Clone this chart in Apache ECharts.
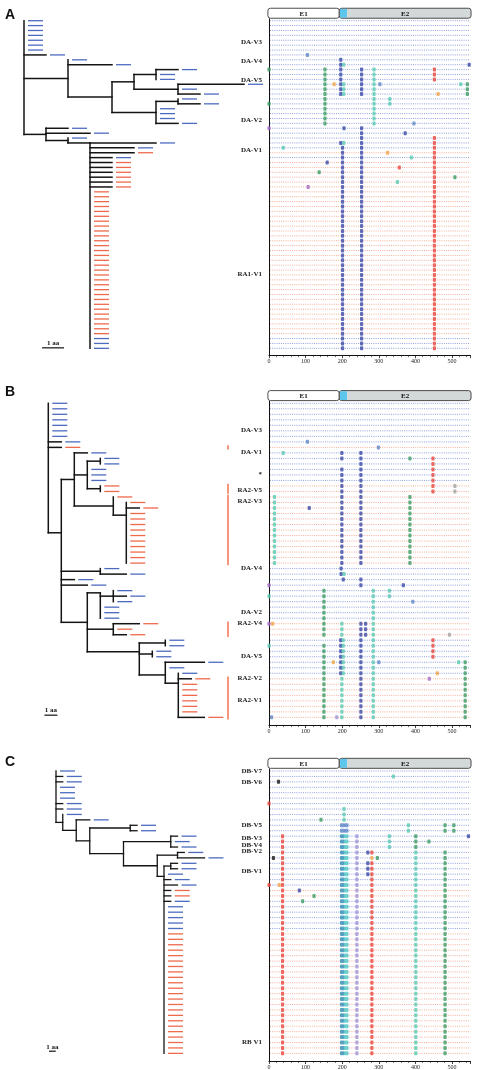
<!DOCTYPE html>
<html><head><meta charset="utf-8">
<script src="https://cdn.jsdelivr.net/npm/echarts@6/dist/echarts.min.js"></script>
<style>html,body{margin:0;padding:0;background:#fff}#c{width:480px;height:1070px}</style>
</head><body><div id="c"></div>
<script>
// ================= DATA =================
const positionTicks = [0, 100, 200, 300, 400, 500];
const positionMax = 550;
const exonSegments = [['E1', -3, 192], ['E2', 192, 552]];
const signalPeptide = [194, 213];

// row colour runs: b = DA/DB (blue) sequences, r = RA/RB (red) sequences
const rowRunsA = [['b',27],['r',1],['b',1],['r',36],['b',3]];
const rowRunsB = [['b',8],['r',1],['b',6],['r',15],['b',10],['r',3],['b',7],['r',8]];
const rowRunsC = [['b',22],['r',2],['b',6],['r',23]];

// trees: leaf = branch length (aa); internal = {b: branch length, k: children, y: optional row of node}
const treeA = {k:[0,0,0,0,0,0,0, 1,
  {b:2, k:[0, 2,
    {b:2, k:[
      {b:1, k:[ {b:1, k:[1,0,0]}, {b:2, k:[3,0,1]} ]},
      {b:2, k:[ {b:1, k:[0,1]}, 0,0,0, 1 ]}
    ]}
  ]},
  {b:1, k:[1, 2,
    {b:1, k:[0,
      {b:1, y:25, k:[3,2,2, 1,1,1,1,1,1,1,
        0,0,0,0,0,0,0,0,0,0, 0,0,0,0,0,0,0,0,0,0, 0,0,0,0,0,0,0,0,0,0, 0,0,0]}
    ]}
  ]}
]};
const treeB = {k:[0,0,0,0,0,0,0, 1, 1,
  {b:1, y:23.5, k:[
    {b:1, k:[1,
      {b:1, k:[ {b:1, k:[0,0]}, 0,0,0, {b:1, k:[0,0]} ]},
      {b:3, k:[0, {b:1, y:20.3, k:[0,1,0,0,0,0,0,0,0,0,0,0]} ]}
    ]},
    {b:3, k:[0, 2]},
    1,
    2,
    {b:2, k:[
      {b:1, y:34.4, k:[ {b:1, k:[0,1,0]}, 0,0,0 ]},
      {b:2, k:[2,0,1]},
      {b:4, y:45.1, k:[
        {b:2, k:[0,0]},
        {b:1, k:[0,0]},
        {b:2, y:49.3, k:[3, 0, {b:1, y:50.8, k:[0,1,0,0,0,0,0,0,2]} ]}
      ]}
    ]}
  ]}
]};
const treeC = {k:[0, 1,1, 0,0,0, 1,1,
  {b:1, k:[0,
    {b:2, k:[2,
      {b:2, k:[
        {b:6, k:[1,1]},
        {b:5, k:[
          {b:7, k:[1,0,1]},
          {b:5, k:[
            {b:3, k:[1,4]},
            {b:1, y:19.4, k:[ {b:1, k:[1,1]}, 0, 1, 2, 1,1,1,
              0,0,0,0,0,0,0,0,0,0, 0,0,0,0,0,0,0,0,0,0, 0,0,0,0,0,0,0,0 ]}
          ]}
        ]}
      ]}
    ]}
  ]}
]};

// mutations: [position, firstRow, lastRow, type]
const mutationsA = [
  [105,7,7,'sb'],[196,8,15,'db'],[204,9,9,'tl'],[204,13,15,'tl'],[547,9,9,'db'],
  [0,10,10,'gr'],[0,17,17,'gr'],[0,22,22,'pu'],[153,10,21,'gr'],[253,10,15,'db'],
  [287,10,21,'tl'],[452,10,12,'rd'],[178,13,13,'or'],[303,13,13,'sb'],[524,13,13,'tl'],
  [542,13,15,'gr'],[462,15,15,'or'],[330,16,17,'tl'],[396,21,21,'sb'],[205,22,22,'db'],
  [253,22,67,'db'],[372,23,23,'db'],[452,24,67,'rd'],[196,25,25,'db'],[204,25,25,'tl'],
  [39,26,26,'tl'],[201,26,67,'db'],[324,27,27,'or'],[389,28,28,'tl'],[159,29,29,'db'],
  [356,30,30,'rd'],[137,31,31,'gr'],[508,32,32,'gr'],[351,33,33,'tl'],[107,34,34,'pu']
];
const mutationsB = [
  [105,7,7,'sb'],[299,8,8,'sb'],[39,9,9,'tl'],[199,9,10,'db'],[199,12,29,'db'],
  [251,9,29,'db'],[385,10,10,'gr'],[385,17,29,'gr'],[448,10,16,'rd'],[508,15,16,'gy'],
  [15,17,29,'tl'],[110,19,19,'db'],[197,30,31,'db'],[205,31,31,'tl'],[203,32,32,'db'],
  [251,32,33,'db'],[0,33,33,'pu'],[367,33,33,'db'],[150,34,42,'gr'],[150,44,57,'gr'],
  [285,34,57,'tl'],[329,34,35,'tl'],[0,35,35,'tl'],[393,36,36,'sb'],[0,40,40,'pu'],
  [10,40,40,'or'],[199,40,42,'tl'],[199,50,57,'tl'],[251,40,57,'db'],[264,40,42,'db'],
  [493,42,42,'gy'],[196,43,49,'db'],[203,43,49,'tl'],[448,43,46,'rd'],[0,44,44,'tl'],
  [176,47,47,'or'],[300,47,47,'sb'],[518,47,47,'tl'],[536,47,57,'gr'],[460,49,49,'or'],
  [438,50,50,'pu'],[7,57,57,'sb'],[185,57,57,'lv']
];
const mutationsC = [
  [340,1,1,'tl'],[26,2,2,'bk'],[0,6,6,'rd'],[205,7,9,'tl'],[142,9,9,'gr'],
  [200,10,11,'bw'],[211,10,11,'bw'],[381,10,11,'tl'],[481,10,11,'gr'],[505,10,11,'gr'],
  [37,12,52,'rd'],[200,12,52,'dt'],[211,12,52,'tw'],[240,12,52,'lv'],[329,12,14,'tl'],
  [401,12,14,'gr'],[401,15,52,'tl'],[545,12,12,'db'],[437,13,13,'gr'],[270,15,15,'db'],
  [270,17,19,'db'],[281,15,15,'rd'],[281,17,52,'rd'],[481,15,52,'gr'],[12,16,16,'bk'],
  [281,16,16,'or'],[296,16,16,'gr'],[0,21,21,'rd'],[28,21,21,'or'],[83,22,22,'db'],
  [123,23,23,'gr'],[92,24,24,'gr']
];

// variant labels: [text, row]
const labelsA = [['DA-V3',4.3],['DA-V4',8.2],['DA-V5',12.2],['DA-V2',20.3],['DA-V1',26.4],['RA1-V1',51.8]];
const labelsB = [['DA-V3',4.85],['DA-V1',8.8],['*',12.8],['RA2-V5',15.7],['RA2-V3',17.7],['DA-V4',29.9],
  ['DA-V2',37.9],['RA2-V4',39.9],['DA-V5',45.9],['RA2-V2',49.9],['RA2-V1',53.9]];
const labelsC = [['DB-V7',0],['DB-V6',2],['DB-V5',10],['DB-V3',12.4],['DB-V4',13.6],['DB-V2',14.8],
  ['DB-V1',18.5],['RB V1',49.9]];
// red sequence brackets in panel B: [firstRow, lastRow]
const bracketsB = [[8,8],[15,16],[17,29],[40,42],[50,57]];
// scale bar: [start (aa), row]
const scaleBarA = [0.82, 66.9];
const scaleBarB = [-0.3, 56.6];
const scaleBarC = [-1.04, 51.6];

// ================= STYLE / LAYOUT =================
const dotColors = {db:'#3a49a8', sb:'#5f86c7', tl:'#58cab3', gr:'#3b9b63', rd:'#e9463c', or:'#f2a446',
  pu:'#a467c2', gy:'#a4a4a4', lv:'#9c95d8', bk:'#151515', dt:'#2f8cb5', tw:'#4ec6c4', bw:'#5a84c6'};
const wideDots = {dt:1, tw:1, bw:1};
const leafBlue = '#4d6cc0', leafRed = '#ee6a4c';
const rowBlue = '#7489d4', rowRed = '#f29c82';
const plotLeft = 269, plotWidth = 201.3;
const serif = '"Liberation Serif","DejaVu Serif",serif';

const panels = [
  {letter:'A', runs:rowRunsA, tree:treeA, muts:mutationsA, labels:labelsA, brackets:[], scale:scaleBarA,
   L:{row0:20.7, step:4.89, treeLeft:24, pxPerAa:22, letterTop:8, lw:1.5}},
  {letter:'B', runs:rowRunsB, tree:treeB, muts:mutationsB, labels:labelsB, brackets:bracketsB, scale:scaleBarB,
   L:{row0:403.3, step:5.51, treeLeft:48.3, pxPerAa:13, letterTop:385, lw:1.5}},
  {letter:'C', runs:rowRunsC, tree:treeC, muts:mutationsC, labels:labelsC, brackets:[], scale:scaleBarC,
   L:{row0:771, step:5.43, treeLeft:56, pxPerAa:6.75, letterTop:755, lw:1.3}}
];

function expandRuns(runs){ const out=[]; runs.forEach(([c,n])=>{ for(let i=0;i<n;i++) out.push(c); }); return out; }
function layoutTree(root){
  const leaves=[], segs=[]; let row=0;
  function walk(node, px){
    if (typeof node === 'number'){
      const x = px + node, y = row++;
      leaves.push([x, y]);
      if (node > 0) segs.push([px, y, x, y]);
      return y;
    }
    const x = px + (node.b || 0);
    const ys = node.k.map(ch => walk(ch, x));
    const y = node.y !== undefined ? node.y : (ys[0] + ys[ys.length-1]) / 2;
    segs.push([x, Math.min(ys[0], y), x, Math.max(ys[ys.length-1], y)]);
    if (node.b) segs.push([px, y, x, y]);
    return y;
  }
  walk(root, 0);
  return {leaves, segs};
}

const grid=[], xAxis=[], yAxis=[], series=[], title=[];
panels.forEach((P, i) => {
  const rowCol = expandRuns(P.runs);
  const N = rowCol.length;
  const L = P.L;
  const yMin = -0.4, yMax = N + 0.4;
  const top = L.row0 + yMin * L.step, height = (yMax - yMin) * L.step;
  const tg = 2*i, pg = 2*i + 1;
  const treeW = 200;
  grid.push({left:L.treeLeft, top:top, width:treeW, height:height, outerBoundsMode:'none', containLabel:false});
  grid.push({left:plotLeft, top:top, width:plotWidth, height:height, outerBoundsMode:'none', containLabel:false});
  xAxis.push({gridIndex:tg, type:'value', min:0, max:treeW / L.pxPerAa, show:false});
  yAxis.push({gridIndex:tg, type:'value', inverse:true, min:yMin, max:yMax, show:false});
  xAxis.push({gridIndex:pg, type:'value', min:0, max:positionMax, interval:100,
    axisLine:{onZero:false, lineStyle:{color:'#111', width:1}},
    axisTick:{length:3, lineStyle:{color:'#111', width:0.8}},
    minorTick:{show:true, splitNumber:5, length:2, lineStyle:{color:'#111', width:0.6}},
    axisLabel:{fontSize:6, fontFamily:serif, color:'#222', margin:3,
      formatter: v => positionTicks.includes(v) ? String(v) : ''},
    splitLine:{show:false}});
  yAxis.push({gridIndex:pg, type:'value', inverse:true, min:yMin, max:yMax,
    axisLine:{show:true, onZero:false, lineStyle:{color:'#111', width:1}},
    axisTick:{show:false}, axisLabel:{show:false}, splitLine:{show:false}});
  title.push({text:P.letter, left:5, top:L.letterTop, padding:0,
    textStyle:{fontSize:14, fontWeight:'bold', fontFamily:'"Liberation Sans",Arial,sans-serif', color:'#111'}});

  // row guide lines
  series.push({type:'custom', xAxisIndex:pg, yAxisIndex:pg, silent:true, z:1,
    data: rowCol.map((c, r) => [0, r, positionMax]), encode:{x:[0,2], y:1},
    renderItem(params, api){
      const r = api.value(1);
      const a = api.coord([0, r]), b = api.coord([positionMax, r]);
      return {type:'line', shape:{x1:a[0]+1, y1:a[1], x2:b[0], y2:b[1]},
        style:{stroke: rowCol[r]==='r' ? rowRed : rowBlue, lineWidth:0.8, lineDash:[1,1.2]}};
    }});
  // header (exons)
  const headerData = exonSegments.map((e, k) => [e[1], e[2], 0, k]).concat([[signalPeptide[0], signalPeptide[1], 0, 2]]);
  series.push({type:'custom', xAxisIndex:pg, yAxisIndex:pg, silent:true, z:3,
    data: headerData, encode:{x:[0,1], y:2},
    renderItem(params, api){
      const k = api.value(3);
      const a = api.coord([api.value(0), yMin]), b = api.coord([api.value(1), yMin]);
      const y0 = a[1] - 10.5, h = 10;
      if (k === 2) {
        return {type:'rect', shape:{x:a[0], y:y0+0.6, width:b[0]-a[0], height:h-1.2}, style:{fill:'#5cc6ec'}};
      }
      return {type:'group', children:[
        {type:'rect', shape:{x:a[0], y:y0, width:b[0]-a[0], height:h, r:2.5},
          style:{fill: k===0 ? '#ffffff' : '#d3d8d8', stroke:'#3a3a3a', lineWidth:0.9}},
        {type:'text', z2:5, style:{text: exonSegments[k][0], x:(a[0]+b[0])/2, y:y0+h/2+0.5, align:'center',
          verticalAlign:'middle', font:'bold 7px ' + serif, fill:'#111'}}
      ]};
    }});
  // mutations
  const mdata = [];
  P.muts.forEach(([pos, r0, r1, c]) => {
    for (let r = r0; r <= r1; r++) {
      mdata.push({value:[pos, r], symbolSize: wideDots[c] ? [4.6, 4] : [3.2, 4], itemStyle:{color: dotColors[c]}});
    }
  });
  series.push({type:'scatter', xAxisIndex:pg, yAxisIndex:pg, symbol:'roundRect', clip:false, silent:true, z:4,
    data: mdata});
  // labels
  series.push({type:'custom', xAxisIndex:pg, yAxisIndex:pg, silent:true, z:5,
    data: P.labels.map(l => [0, l[1]]), encode:{x:0, y:1},
    renderItem(params, api){
      const p = api.coord([0, api.value(1)]);
      return {type:'text', style:{text: P.labels[params.dataIndex][0], x:p[0]-7, y:p[1], align:'right',
        verticalAlign:'middle', font:'bold 7px ' + serif, fill:'#222'}};
    }});
  // brackets
  if (P.brackets.length) {
    series.push({type:'custom', xAxisIndex:pg, yAxisIndex:pg, silent:true, z:5,
      data: P.brackets.map(b => [0, b[0], b[1]]), encode:{x:0, y:[1,2]},
      renderItem(params, api){
        const a = api.coord([0, api.value(1) - 0.4]), b = api.coord([0, api.value(2) + 0.4]);
        return {type:'line', shape:{x1:a[0]-41, y1:a[1], x2:a[0]-41, y2:b[1]},
          style:{stroke:'#f27c5a', lineWidth:1.6}};
      }});
  }
  // tree
  const T = layoutTree(P.tree);
  series.push({type:'custom', xAxisIndex:tg, yAxisIndex:tg, silent:true, z:3,
    data: T.segs, encode:{x:[0,2], y:[1,3]},
    renderItem(params, api){
      const a = api.coord([api.value(0), api.value(1)]), b = api.coord([api.value(2), api.value(3)]);
      return {type:'line', shape:{x1:a[0], y1:a[1], x2:b[0], y2:b[1]},
        style:{stroke:'#141414', lineWidth:L.lw, lineCap:'square'}};
    }});
  series.push({type:'custom', xAxisIndex:tg, yAxisIndex:tg, silent:true, z:3,
    data: T.leaves, encode:{x:0, y:1},
    renderItem(params, api){
      const r = api.value(1);
      const p = api.coord([api.value(0), r]);
      return {type:'line', shape:{x1:p[0]+4, y1:p[1], x2:p[0]+19, y2:p[1]},
        style:{stroke: rowCol[r]==='r' ? leafRed : leafBlue, lineWidth:1.3}};
    }});
  series.push({type:'custom', xAxisIndex:tg, yAxisIndex:tg, silent:true, z:3,
    data: [P.scale], encode:{x:0, y:1},
    renderItem(params, api){
      const x0 = api.value(0), r = api.value(1);
      const a = api.coord([x0, r]), b = api.coord([x0 + 1, r]);
      return {type:'group', children:[
        {type:'line', shape:{x1:a[0], y1:a[1], x2:b[0], y2:b[1]}, style:{stroke:'#111', lineWidth:1.2}},
        {type:'text', style:{text:'1 aa', x:(a[0]+b[0])/2, y:a[1]-1, align:'center', verticalAlign:'bottom',
          font:'bold 7px ' + serif, fill:'#111'}}
      ]};
    }});
});

const chart = echarts.init(document.getElementById('c'), null, {renderer:'canvas', width:480, height:1070});
chart.setOption({animation:false, backgroundColor:'#ffffff', title, grid, xAxis, yAxis, series});
</script>
</body></html>
